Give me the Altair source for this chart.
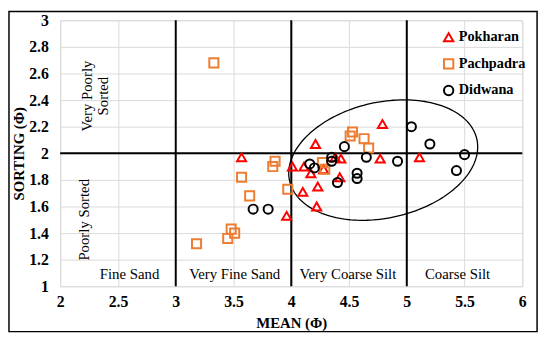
import altair as alt
import pandas as pd
import numpy as np

# ---- data ----
sites = ["Pokharan", "Pachpadra", "Didwana"]
site_colors = ["#ff0000", "#ed7d31", "#000000"]
site_shapes = ["triangle-up", "square", "circle"]

pok_mean = [3.57, 3.96, 4.01, 4.11, 4.17, 4.21, 4.10, 4.23, 4.22, 4.28, 4.38, 4.43, 4.42, 4.79, 4.77, 5.11]
pok_sort = [1.97, 1.53, 1.90, 1.90, 1.85, 2.07, 1.71, 1.75, 1.60, 1.88, 1.97, 1.96, 1.82, 2.22, 1.96, 1.97]

pac_mean = [3.33, 3.86, 3.84, 3.57, 3.64, 3.97, 3.48, 3.51, 3.45, 3.18, 4.27, 4.29, 4.51, 4.53, 4.63, 4.67]
pac_sort = [2.68, 1.94, 1.90, 1.82, 1.68, 1.73, 1.43, 1.40, 1.36, 1.32, 1.93, 1.88, 2.13, 2.16, 2.11, 2.04]

did_mean = [3.67, 3.80, 4.16, 4.20, 4.35, 4.35, 4.46, 4.40, 4.57, 4.57, 4.65, 4.92, 5.04, 5.20, 5.43, 5.50]
did_sort = [1.58, 1.58, 1.92, 1.89, 1.97, 1.94, 2.05, 1.78, 1.85, 1.81, 1.97, 1.94, 2.20, 2.07, 1.87, 1.99]

x_ticks = [2, 2.5, 3, 3.5, 4, 4.5, 5, 5.5, 6]
y_ticks = [1, 1.2, 1.4, 1.6, 1.8, 2, 2.2, 2.4, 2.6, 2.8, 3]

class_x = [3, 4, 5]          # size-class boundaries
class_y = [2]                # sorting boundary

region_text = ["Fine Sand", "Very Fine Sand", "Very Coarse Silt", "Coarse Silt"]
region_x = [2.60, 3.51, 4.49, 5.44]
region_y = [1.095, 1.095, 1.095, 1.095]

sort_text = [["Very Poorly", "Sorted"], ["Poorly Sorted"]]
sort_x = [2.23, 2.205]
sort_y = [2.43, 1.50]

# ellipse: centre and two conjugate semi-axis vectors (data units)
ell_center = [4.796, 1.949]
ell_u = [0.810, 0.159]
ell_v = [-0.113, 0.424]

# ---- tables ----
pts = pd.DataFrame({
    "site": ["Pokharan"] * len(pok_mean) + ["Pachpadra"] * len(pac_mean) + ["Didwana"] * len(did_mean),
    "mean": pok_mean + pac_mean + did_mean,
    "sorting": pok_sort + pac_sort + did_sort,
})

t = np.linspace(0, 2 * np.pi, 181)
ell = pd.DataFrame({
    "t": np.arange(len(t)),
    "x": ell_center[0] + ell_u[0] * np.cos(t) + ell_v[0] * np.sin(t),
    "y": ell_center[1] + ell_u[1] * np.cos(t) + ell_v[1] * np.sin(t),
})

serif = "Liberation Serif"
xs = alt.Scale(domain=[2, 6], nice=False, zero=False)
ys = alt.Scale(domain=[1, 3], nice=False, zero=False)

xax = alt.Axis(values=x_ticks, format="~g", title="MEAN (Φ)", grid=True, gridColor="#d9d9d9", ticks=False,
               domain=False, labelFont=serif, labelFontSize=16, labelFontWeight="bold",
               labelColor="black", labelPadding=7, titleFont=serif, titleFontSize=15,
               titleFontWeight="bold", titleColor="black", titlePadding=7, labelFlush=False,
               labelOverlap=False)
yax = alt.Axis(values=y_ticks, format="~g", title="SORTING (Φ)", grid=True, gridColor="#d9d9d9", ticks=False,
               domain=False, labelFont=serif, labelFontSize=16, labelFontWeight="bold",
               labelColor="black", labelPadding=12, titleFont=serif, titleFontSize=15,
               titleFontWeight="bold", titleColor="black", titlePadding=2, labelFlush=False,
               labelOverlap=False)

base_grid = alt.Chart(pd.DataFrame({"x": [2], "y": [1]})).mark_point(opacity=0).encode(
    x=alt.X("x:Q", scale=xs, axis=xax),
    y=alt.Y("y:Q", scale=ys, axis=yax),
)

vrules = alt.Chart(pd.DataFrame({"x": class_x})).mark_rule(color="black", strokeWidth=2).encode(
    x=alt.X("x:Q", scale=xs, axis=xax))
hrules = alt.Chart(pd.DataFrame({"y": class_y})).mark_rule(color="black", strokeWidth=2).encode(
    y=alt.Y("y:Q", scale=ys, axis=yax))

ellipse = alt.Chart(ell).mark_line(color="black", strokeWidth=1.3).encode(
    x=alt.X("x:Q", scale=xs, axis=xax), y=alt.Y("y:Q", scale=ys, axis=yax), order="t:Q")

leg = alt.Legend(title=None, orient="none", legendX=387, legendY=10, labelFont=serif,
                 labelFontSize=14.5, labelFontWeight="bold", labelColor="black",
                 symbolStrokeWidth=2, symbolSize=90, rowPadding=9, labelOffset=3, padding=0)

points = alt.Chart(pts).mark_point(filled=False, strokeWidth=2, size=85, opacity=1).encode(
    x=alt.X("mean:Q", scale=xs, axis=xax),
    y=alt.Y("sorting:Q", scale=ys, axis=yax),
    color=alt.Color("site:N", scale=alt.Scale(domain=sites, range=site_colors), legend=leg),
    shape=alt.Shape("site:N", scale=alt.Scale(domain=sites, range=site_shapes), legend=leg),
)

rtext = alt.Chart(pd.DataFrame({"t": region_text, "x": region_x, "y": region_y})).mark_text(
    font=serif, fontSize=15, color="black").encode(
    x=alt.X("x:Q", scale=xs, axis=xax), y=alt.Y("y:Q", scale=ys, axis=yax), text="t:N")

stext = alt.Chart(pd.DataFrame({"t": sort_text, "x": sort_x, "y": sort_y})).mark_text(
    font=serif, fontSize=15, color="black", angle=270, lineHeight=17).encode(
    x=alt.X("x:Q", scale=xs, axis=xax), y=alt.Y("y:Q", scale=ys, axis=yax), text="t")

frame = alt.Chart(pd.DataFrame({"a": [0]})).mark_rect(fill=None, stroke="black", strokeWidth=1.5).encode(
    x=alt.value(-52), x2=alt.value(484), y=alt.value(-9), y2=alt.value(316))

chart = alt.layer(frame, base_grid, vrules, hrules, ellipse, rtext, stext, points).properties(
    width=469, height=270,
    autosize=alt.AutoSizeParams(type="none"),
    padding={"left": 53, "top": 10, "right": 20, "bottom": 50},
).configure_view(stroke="black", strokeWidth=1.5).configure_axis(
    labelOverlap=False
).configure(background="white")

chart.save("out.html", embed_options={"renderer": "svg", "actions": False})
